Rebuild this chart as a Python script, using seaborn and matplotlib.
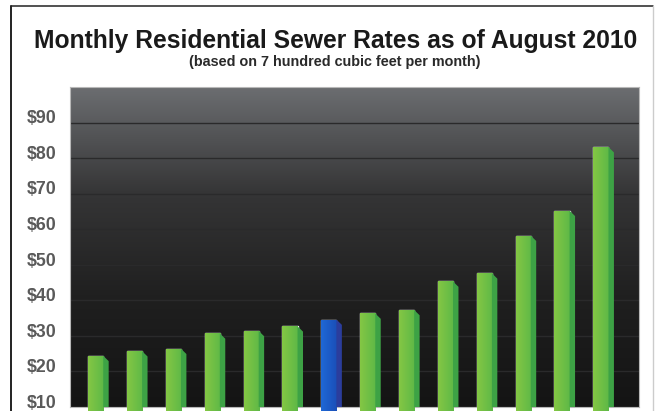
import numpy as np
import pandas as pd
import seaborn as sns
import matplotlib.pyplot as plt
from matplotlib.colors import LinearSegmentedColormap
from matplotlib.patches import Polygon
from matplotlib.lines import Line2D
from matplotlib.transforms import ScaledTranslation

# data (no city names shown on the chart)
utilities = [f'U{i}' for i in range(1, 15)]
rates = [24.4, 25.7, 26.4, 30.7, 31.4, 32.7, 34.6, 36.3, 37.3, 45.3, 47.6, 58.2, 65.2, 83.1]
highlight = 'U7'
ticks = [10, 20, 30, 40, 50, 60, 70, 80, 90]
tick_labels = [r'\$' + str(t) for t in ticks]

title = 'Monthly Residential Sewer Rates as of August 2010'
subtitle = '(based on 7 hundred cubic feet per month)'

df = pd.DataFrame({'utility': utilities, 'rate': rates})

sns.set_style('white')
plt.rcParams['font.family'] = ['Liberation Sans', 'DejaVu Sans']

fig = plt.figure(figsize=(6.57, 4.11), dpi=100)
ax = fig.add_axes([70 / 657, 4 / 411, 569 / 657, 320 / 411])

front_colors = {u: ('#1d5fc9' if u == highlight else '#6fc045') for u in utilities}
sns.barplot(data=df, x='utility', y='rate', hue='utility', palette=front_colors,
            legend=False, width=0.39, ax=ax, zorder=2, saturation=1)

# background gradient, grey at top to near black at bottom
bg_cmap = LinearSegmentedColormap.from_list('bg', ['#141414', '#1f1f1f', '#353536', '#6c6e71'])
bg = np.linspace(0, 1, 256).reshape(-1, 1)
ax.imshow(bg, cmap=bg_cmap, origin='lower', extent=[0, 1, 0, 1],
          transform=ax.transAxes, aspect='auto', zorder=0)

green_front = LinearSegmentedColormap.from_list('gf', ['#84c744', '#5eb847'])
blue_front = LinearSegmentedColormap.from_list('bf', ['#1f68d6', '#1a4fb8'])
side_dx, side_dy = 0.14, 1.5
for bar, u in zip(ax.patches, utilities):
    x0, w = bar.get_x(), bar.get_width()
    y0, h = bar.get_y(), bar.get_height()
    top = y0 + h
    cmap = blue_front if u == highlight else green_front
    img = ax.imshow(np.linspace(0, 1, 64).reshape(1, -1), cmap=cmap,
                    extent=[x0, x0 + w, y0, top], aspect='auto', zorder=3)
    img.set_clip_path(bar)
    side_col = '#2b3d9c' if u == highlight else '#3da245'
    ax.add_patch(Polygon([(x0 + w, top), (x0 + w + side_dx, top - side_dy),
                          (x0 + w + side_dx, y0), (x0 + w, y0)],
                         closed=True, facecolor=side_col, edgecolor='none', zorder=3))

ax.set_xlim(-0.66, 13.98)
ax.set_ylim(10, 100)
ax.set_yticks(ticks)
ax.set_yticklabels(tick_labels, fontsize=12.8, fontweight='bold', color='#5a5a5a')
ax.tick_params(axis='y', length=0, pad=10)
ax.set_xticks([])
ax.set_xlabel('')
ax.set_ylabel('')
ax.grid(axis='y', color='#2a2a2b', linewidth=1.0)
ax.set_axisbelow(True)
for lab in ax.get_yticklabels():
    lab.set_transform(lab.get_transform() + ScaledTranslation(0, 0.057, fig.dpi_scale_trans))
for s in ax.spines.values():
    s.set_color('#b8b8b8')
    s.set_linewidth(0.8)

fig.text(0.511, 1 - 48 / 411, title, ha='center', va='baseline',
         fontsize=17.7, fontweight='bold', color='#1a1a1a')
fig.text(0.51, 1 - 66 / 411, subtitle, ha='center', va='baseline',
         fontsize=10.4, fontweight='bold', color='#2a2a2a')

# outer frame of the original graphic
fig.add_artist(Line2D([11 / 657, 11 / 657], [0, 1 - 6 / 411], color='#111111', linewidth=1.3))
fig.add_artist(Line2D([11 / 657, 653 / 657], [1 - 6 / 411, 1 - 6 / 411], color='#222222', linewidth=1.1))
fig.add_artist(Line2D([653 / 657, 653 / 657], [0, 1 - 6 / 411], color='#cccccc', linewidth=1.0))

fig.savefig('out.png', dpi=100)
